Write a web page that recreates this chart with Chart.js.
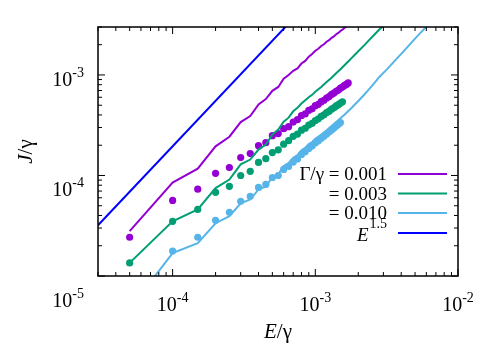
<!DOCTYPE html>
<html>
<head>
<meta charset="utf-8">
<script src="https://cdn.jsdelivr.net/npm/chart.js@4"></script>
<style>
  body { margin: 0; background: #fff; }
  #wrap { width: 500px; height: 350px; }
</style>
</head>
<body>
<div id="wrap"><canvas id="plot" width="500" height="350"></canvas></div>
<script>
// dots: x = E/gamma, y = J/gamma
const dotX = [0.00005, 0.0001, 0.00015, 0.0002, 0.00025, 0.0003, 0.00035, 0.0004, 0.00045, 0.0005,
  0.00055, 0.0006, 0.00065, 0.0007, 0.00075, 0.0008, 0.00085, 0.0009, 0.00095, 0.001,
  0.00105, 0.0011, 0.00115, 0.0012, 0.00125, 0.0013, 0.00135, 0.0014, 0.00145, 0.0015,
  0.00155, 0.0016, 0.00165, 0.0017]
const dots001 = [2.43e-5, 5.65e-5, 7.3e-5, 1.05e-4, 1.2e-4, 1.51e-4, 1.65e-4, 1.98e-4, 2.12e-4, 2.49e-4,
  2.61e-4, 2.92e-4, 3.06e-4, 3.4e-4, 3.6e-4, 3.95e-4, 4.1e-4, 4.45e-4, 4.6e-4, 4.95e-4,
  5.1e-4, 5.42e-4, 5.6e-4, 5.9e-4, 6.1e-4, 6.4e-4, 6.6e-4, 6.88e-4, 7.08e-4, 7.38e-4,
  7.57e-4, 7.86e-4, 8.05e-4, 8.33e-4]
const dots003 = [1.35e-5, 3.5e-5, 4.6e-5, 6.8e-5, 7.8e-5, 1.0e-4, 1.1e-4, 1.35e-4, 1.47e-4, 1.69e-4,
  1.8e-4, 2.05e-4, 2.22e-4, 2.45e-4, 2.58e-4, 2.82e-4, 2.95e-4, 3.17e-4, 3.3e-4, 3.52e-4,
  3.66e-4, 3.87e-4, 4.02e-4, 4.22e-4, 4.36e-4, 4.57e-4, 4.72e-4, 4.92e-4, 5.06e-4, 5.26e-4,
  5.41e-4]
const dots010 = [null, 1.77e-5, 2.43e-5, 3.58e-5, 4.3e-5, 5.53e-5, 6.2e-5, 7.6e-5, 8.15e-5, 9.55e-5,
  1.0e-4, 1.15e-4, 1.23e-4, 1.36e-4, 1.46e-4, 1.62e-4, 1.72e-4, 1.86e-4, 1.96e-4, 2.1e-4,
  2.21e-4, 2.34e-4, 2.46e-4, 2.59e-4, 2.71e-4, 2.84e-4, 2.97e-4, 3.1e-4, 3.23e-4, 3.36e-4]

// solid curves
const lineX001 = dotX.slice(0, 33)
const line001 = [2.8e-5, 8.5e-5, 1.17e-4, 1.95e-4, 2.43e-4, 3.4e-4, 3.9e-4, 5.1e-4, 5.75e-4, 6.95e-4,
  7.6e-4, 9.2e-4, 1.0e-3, 1.1e-3, 1.16e-3, 1.3e-3, 1.38e-3, 1.52e-3, 1.62e-3, 1.74e-3,
  1.82e-3, 1.94e-3, 2.02e-3, 2.14e-3, 2.22e-3, 2.34e-3, 2.42e-3, 2.54e-3, 2.62e-3, 2.74e-3,
  2.82e-3, 2.94e-3, 3.03e-3]
const lineX003 = dotX.slice(0, 20).concat([0.0011, 0.0012, 0.0013, 0.0014, 0.0015, 0.0016, 0.0017,
  0.0018, 0.0019, 0.002, 0.0022, 0.0024, 0.0026, 0.0028, 0.003])
const line003 = [1.35e-5, 3.5e-5, 4.6e-5, 7.5e-5, 9.1e-5, 1.29e-4, 1.44e-4, 1.81e-4, 2.03e-4, 2.55e-4,
  2.86e-4, 3.43e-4, 3.76e-4, 4.35e-4, 4.72e-4, 5.2e-4, 5.6e-4, 6.0e-4, 6.34e-4, 6.8e-4,
  7.6e-4, 8.5e-4, 9.4e-4, 1.04e-3, 1.14e-3, 1.25e-3, 1.36e-3, 1.48e-3, 1.6e-3, 1.72e-3,
  1.97e-3, 2.25e-3, 2.53e-3, 2.82e-3, 3.1e-3]
const lineX010 = dotX.slice(0, 20).concat([0.0011, 0.0012, 0.0013, 0.0014, 0.0016, 0.0018, 0.002, 0.0022, 0.0024,
  0.0026, 0.0028, 0.0032, 0.0036, 0.004, 0.0045, 0.005, 0.0055, 0.006])
const line010 = [4.7e-6, 1.69e-5, 2.12e-5, 3.35e-5, 3.93e-5, 5.28e-5, 5.78e-5, 7.26e-5, 7.78e-5, 9.6e-5,
  1.03e-4, 1.24e-4, 1.33e-4, 1.5e-4, 1.6e-4, 1.78e-4, 1.88e-4, 2.05e-4, 2.15e-4, 2.32e-4,
  2.55e-4, 2.8e-4, 3.1e-4, 3.4e-4, 4.02e-4, 4.72e-4, 5.5e-4, 6.35e-4, 7.3e-4, 8.35e-4,
  9.5e-4, 1.15e-3, 1.38e-3, 1.62e-3, 1.95e-3, 2.3e-3, 2.65e-3, 3.02e-3]
const powX = [3e-5, 1e-3]
const powY = [3.2e-5, 6.2e-3]

const xMajor = [1e-4, 1e-3, 1e-2]
const xMajorLabels = ['-4', '-3', '-2']
const yMajor = [1e-5, 1e-4, 1e-3]
const yMajorLabels = ['-5', '-4', '-3']
const legendLabels = ['Γ/γ = 0.001', '= 0.003', '= 0.010', 'E']

const colors = ['#9400d3', '#009e73', '#56b4e9', '#0000ff']

const pts = (xs, ys) => xs.map((v, i) => ({x: v, y: ys[i]})).filter(p => p.y !== null)

const serif = '"Liberation Serif", "DejaVu Serif", serif'

const minorTicks = (lo, hi) => {
  const out = []
  for (let e = -6; e <= -1; e++) {
    for (let m = 1; m <= 9; m++) {
      const v = m * Math.pow(10, e)
      if (v >= lo * 0.999 && v <= hi * 1.001) out.push({v: v, major: m === 1})
    }
  }
  return out
}

const supText = (ctx, base, sup, x, y, align, baseFont, supFont, rise) => {
  ctx.font = baseFont
  const w1 = ctx.measureText(base).width
  ctx.font = supFont
  const w2 = ctx.measureText(sup).width
  let x0 = x
  if (align === 'center') x0 = x - (w1 + w2) / 2
  if (align === 'right') x0 = x - w1 - w2
  ctx.textAlign = 'left'
  ctx.textBaseline = 'alphabetic'
  ctx.font = baseFont
  ctx.fillText(base, x0, y)
  ctx.font = supFont
  ctx.fillText(sup, x0 + w1, y - rise)
}

const decorations = {
  id: 'decorations',
  afterDatasetsDraw(chart) {
    const {ctx, chartArea: a, scales: {x, y}} = chart
    ctx.save()
    ctx.strokeStyle = '#000'
    ctx.fillStyle = '#000'
    ctx.lineWidth = 1
    // ticks, mirrored on all sides
    minorTicks(3e-5, 1e-2).forEach(t => {
      const p = x.getPixelForValue(t.v)
      const len = t.major ? 7 : 4
      ctx.beginPath()
      ctx.moveTo(p, a.bottom); ctx.lineTo(p, a.bottom - len)
      ctx.moveTo(p, a.top); ctx.lineTo(p, a.top + len)
      ctx.stroke()
    })
    minorTicks(1e-5, 3e-3).forEach(t => {
      const p = y.getPixelForValue(t.v)
      const len = t.major ? 7 : 4
      ctx.beginPath()
      ctx.moveTo(a.left, p); ctx.lineTo(a.left + len, p)
      ctx.moveTo(a.right, p); ctx.lineTo(a.right - len, p)
      ctx.stroke()
    })
    ctx.lineWidth = 1.5
    ctx.strokeRect(a.left, a.top, a.right - a.left, a.bottom - a.top)

    // tick labels
    const bf = '20px ' + serif, sf = '14px ' + serif
    xMajor.forEach((v, i) => {
      supText(ctx, '10', xMajorLabels[i], x.getPixelForValue(v), a.bottom + 35, 'center', bf, sf, 9)
    })
    // the y labels sit a little lower than their ticks in the original, more so further down
    yMajor.forEach((v, i) => {
      const drop = 4 + 10 * (-3 - Math.log10(v))
      supText(ctx, '10', yMajorLabels[i], a.left - 14, y.getPixelForValue(v) + 7 + drop, 'right', bf, sf, 9)
    })

    // axis titles
    const it = 'italic 21px ' + serif, nt = '21px ' + serif
    ctx.font = it
    const wE = ctx.measureText('E').width
    ctx.font = nt
    const wG = ctx.measureText('/γ').width
    let cx = (a.left + a.right) / 2 - (wE + wG) / 2
    ctx.textAlign = 'left'
    ctx.font = it; ctx.fillText('E', cx, 338)
    ctx.font = nt; ctx.fillText('/γ', cx + wE, 338)

    ctx.save()
    ctx.translate(32, (a.top + a.bottom) / 2)
    ctx.rotate(-Math.PI / 2)
    ctx.font = it
    const wJ = ctx.measureText('J').width
    ctx.font = nt
    const wG2 = ctx.measureText('/γ').width
    cx = -(wJ + wG2) / 2
    ctx.font = it; ctx.fillText('J', cx, 0)
    ctx.font = nt; ctx.fillText('/γ', cx + wJ, 0)
    ctx.restore()

    // key
    const rows = [174, 193.5, 213, 233]
    const lf = '19px ' + serif
    ctx.lineWidth = 2
    rows.forEach((ry, i) => {
      ctx.strokeStyle = colors[i]
      ctx.beginPath()
      ctx.moveTo(398, ry); ctx.lineTo(447, ry)
      ctx.stroke()
      if (i < 3) {
        ctx.font = lf
        ctx.textAlign = 'right'
        ctx.fillText(legendLabels[i], 387, ry + 6)
      } else {
        ctx.font = '14px ' + serif
        const w15 = ctx.measureText('1.5').width
        ctx.textAlign = 'left'
        ctx.fillText('1.5', 387 - w15, ry - 5)
        ctx.font = 'italic 19px ' + serif
        ctx.textAlign = 'right'
        ctx.fillText(legendLabels[i], 386 - w15, ry + 8)
      }
    })
    ctx.restore()
  }
}

const dotSet = (data, c) => ({
  data: data, showLine: false, pointRadius: 3.6, pointBackgroundColor: c,
  pointBorderWidth: 0, borderColor: c, clip: 0
})
const lineSet = (data, c) => ({
  data: data, showLine: true, pointRadius: 0, borderColor: c, borderWidth: 2,
  tension: 0, clip: 0
})

new Chart(document.querySelector('#plot'), {
  type: 'scatter',
  data: {
    datasets: [
      lineSet(pts(powX, powY), colors[3]),
      lineSet(pts(lineX010, line010), colors[2]),
      lineSet(pts(lineX003, line003), colors[1]),
      lineSet(pts(lineX001, line001), colors[0]),
      dotSet(pts(dotX, dots010), colors[2]),
      dotSet(pts(dotX, dots003), colors[1]),
      dotSet(pts(dotX, dots001), colors[0])
    ]
  },
  options: {
    responsive: false,
    animation: false,
    events: [],
    layout: { padding: { left: 98, right: 42, top: 27, bottom: 74 } },
    plugins: { legend: { display: false }, tooltip: { enabled: false } },
    scales: {
      x: {
        type: 'logarithmic', min: 3e-5, max: 1e-2,
        grid: { display: false, drawTicks: false },
        border: { display: false },
        ticks: { display: false }
      },
      y: {
        type: 'logarithmic', min: 1e-5, max: 3e-3,
        grid: { display: false, drawTicks: false },
        border: { display: false },
        ticks: { display: false }
      }
    }
  },
  plugins: [decorations]
})
</script>
</body>
</html>
